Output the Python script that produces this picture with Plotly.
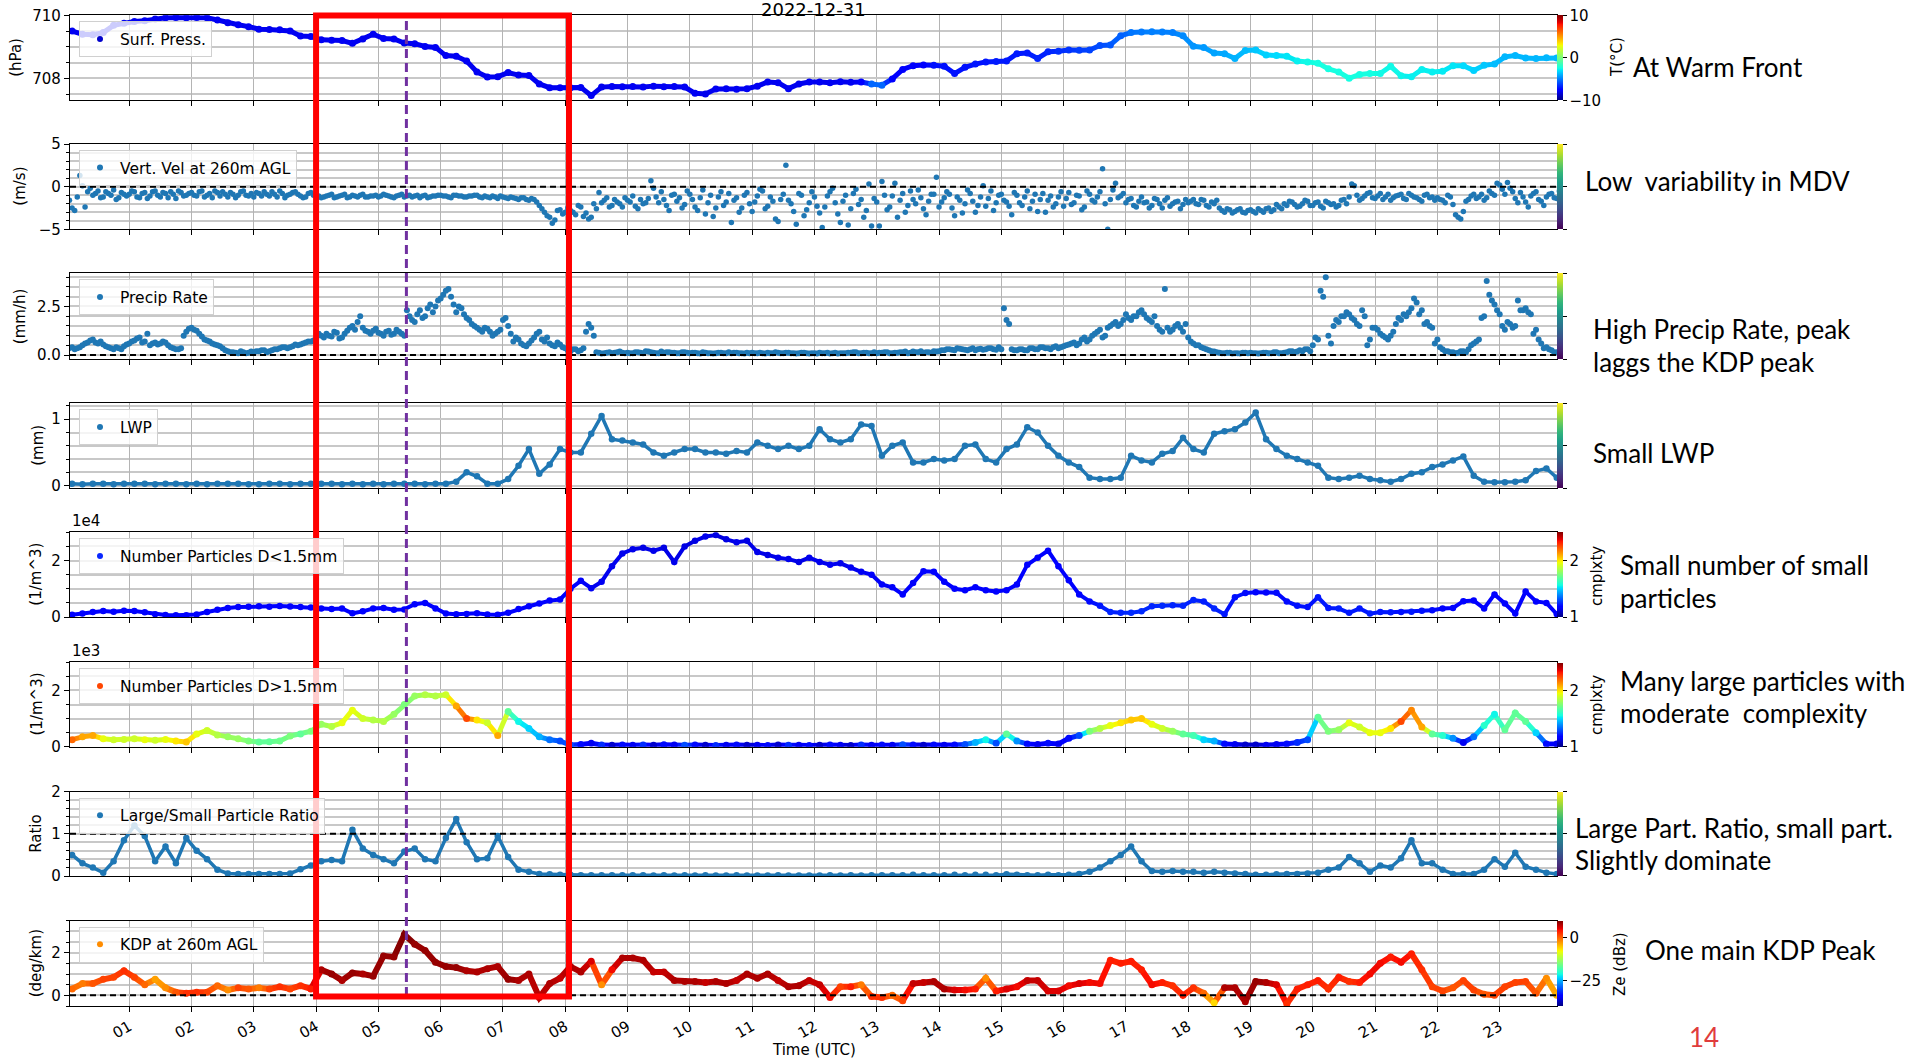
import plotly.graph_objects as go

W, H = 1911, 1060
ML, MR = 70, 354
PW = W - ML - MR

# ---------------- data ----------------
HOUR_TICKS = list(range(1, 24))
HOUR_LABELS = ["%02d" % h for h in HOUR_TICKS]
MIN10 = [5, 15, 25, 35, 45, 55]
MIN5 = [2.5, 7.5, 12.5, 17.5, 22.5, 27.5, 32.5, 37.5, 42.5, 47.5, 52.5, 57.5]
MIN5B = [0, 5, 10, 15, 20, 25, 30, 35, 40, 45, 50, 55]

press_hpa = [
    [709.50, 709.40, 709.38, 709.45, 709.68, 709.75],
    [709.80, 709.83, 709.88, 709.92, 709.93, 709.92],
    [709.93, 709.92, 709.85, 709.76, 709.70, 709.64],
    [709.56, 709.55, 709.54, 709.50, 709.34, 709.33],
    [709.22, 709.21, 709.20, 709.11, 709.25, 709.40],
    [709.26, 709.25, 709.12, 709.10, 709.01, 708.98],
    [708.72, 708.70, 708.55, 708.20, 708.04, 708.05],
    [708.18, 708.10, 708.09, 707.82, 707.70, 707.70],
    [707.70, 707.71, 707.45, 707.72, 707.74, 707.73],
    [707.74, 707.72, 707.75, 707.73, 707.74, 707.72],
    [707.52, 707.50, 707.66, 707.67, 707.65, 707.67],
    [707.75, 707.88, 707.86, 707.67, 707.82, 707.88],
    [707.88, 707.86, 707.89, 707.87, 707.88, 707.82],
    [707.78, 707.98, 708.28, 708.40, 708.42, 708.41],
    [708.38, 708.15, 708.35, 708.45, 708.52, 708.53],
    [708.55, 708.78, 708.80, 708.63, 708.84, 708.86],
    [708.90, 708.89, 708.90, 709.04, 709.06, 709.35],
    [709.45, 709.47, 709.48, 709.47, 709.45, 709.35],
    [709.02, 708.98, 708.80, 708.78, 708.63, 708.88],
    [708.90, 708.74, 708.72, 708.70, 708.55, 708.52],
    [708.48, 708.30, 708.20, 708.00, 708.12, 708.15],
    [708.15, 708.38, 708.08, 708.05, 708.28, 708.20],
    [708.22, 708.40, 708.40, 708.25, 708.41, 708.45],
    [708.68, 708.72, 708.64, 708.63, 708.65, 708.64],
]

temp_c = [
    [-8.0, -8.1, -8.0, -8.0, -8.1, -8.0],
    [-8.0, -8.0, -8.1, -8.0, -8.0, -8.0],
    [-8.0, -8.0, -8.0, -8.1, -8.0, -8.0],
    [-8.0, -8.1, -8.0, -8.0, -8.0, -8.0],
    [-8.0, -8.0, -8.0, -8.0, -8.1, -8.0],
    [-8.0, -8.0, -8.1, -8.0, -8.0, -8.0],
    [-8.0, -8.0, -8.0, -8.0, -8.0, -8.1],
    [-8.0, -8.1, -8.0, -8.0, -8.0, -8.0],
    [-8.0, -8.0, -8.0, -8.1, -8.0, -8.0],
    [-8.0, -8.0, -8.0, -8.0, -8.0, -8.0],
    [-8.0, -8.1, -8.0, -8.0, -8.0, -8.0],
    [-8.0, -8.0, -8.0, -8.0, -8.1, -8.0],
    [-8.0, -8.0, -8.0, -8.0, -7.8, -5.5],
    [-5.5, -7.5, -7.5, -7.5, -7.5, -7.2],
    [-7.2, -7.2, -7.2, -7.1, -7.1, -7.0],
    [-7.0, -7.0, -7.0, -6.8, -6.8, -6.6],
    [-6.5, -6.3, -6.2, -6.0, -5.8, -5.6],
    [-5.2, -5.1, -5.0, -5.0, -5.0, -4.8],
    [-4.6, -4.5, -4.3, -4.2, -4.0, -3.8],
    [-3.6, -3.4, -3.2, -3.0, -2.8, -2.6],
    [-2.5, -2.5, -2.5, -2.5, -2.5, -2.5],
    [-2.6, -2.6, -2.7, -2.8, -2.8, -2.8],
    [-2.9, -3.0, -3.2, -3.4, -3.6, -3.8],
    [-3.9, -3.9, -3.9, -3.9, -3.9, -3.9],
]

vel_ms = [
    [-1.6, -2.8, 1.3, -2.4, -0.2, -0.8, -1.3, -0.6, -1.0, -1.5, -0.7, -1.1],
    [-0.5, -1.2, -0.8, -1.4, -0.6, -1.0, -0.7, -1.3, -0.9, -0.5, -1.1, -0.8],
    [-1.0, -0.6, -1.2, -0.8, -0.5, -1.1, -0.9, -0.7, -1.3, -0.6, -1.0, -0.8],
    [-0.7, -1.1, -0.9, -0.6, -1.2, -0.8, -1.0, -0.7, -0.9, -1.3, -0.8, -1.0],
    [-1.1, -1.2, -1.0, -1.3, -1.1, -0.9, -1.2, -1.1, -1.0, -1.2, -1.1, -1.0],
    [-1.1, -1.0, -1.2, -1.1, -0.9, -1.1, -1.2, -1.0, -1.1, -1.3, -1.1, -1.0],
    [-1.1, -1.2, -1.0, -1.1, -1.2, -1.1, -1.0, -1.2, -1.1, -1.3, -1.2, -1.1],
    [-1.3, -1.2, -1.4, -1.3, -1.5, -1.4, -1.8, -2.6, -3.4, -4.3, -2.8, -3.2],
    [-2.5, -3.0, -2.2, -3.5, -3.8, -2.0, -0.7, -1.6, -2.4, -1.5, -2.0, -1.3],
    [-1.8, -2.3, -1.5, -1.9, 0.7, -1.2, -0.6, -2.2, -1.0, -1.7, -2.5, -0.5],
    [-1.5, -2.8, -0.4, -1.9, -3.5, -1.2, -2.2, -0.8, -1.6, -3.0, -1.0, -2.0],
    [-1.8, -0.3, -2.6, -1.2, -3.8, -1.5, 2.5, -2.0, -4.4, -1.0, -2.7, -0.6],
    [-2.3, -4.8, -1.1, -0.2, -3.2, -1.7, -4.5, -0.8, -2.1, -3.6, 0.3, -1.4],
    [-4.6, -1.0, -2.4, 0.4, -1.6, -3.0, -0.5, -2.0, -1.3, -3.3, -0.9, 1.1],
    [-1.8, -0.6, -2.5, -1.2, -3.1, -0.4, -1.7, -2.2, 0.1, -1.4, -2.8, -1.0],
    [-1.6, -2.3, -0.7, -1.9, -1.2, -2.6, -0.9, -1.5, -3.0, -1.1, -2.0, -0.6],
    [-1.4, -2.1, -1.0, -2.7, -0.5, -1.6, -1.2, 2.1, -5.0, -0.4, -1.3, -0.8],
    [-1.5, -2.2, -1.7, -1.9, -2.5, -1.4, -2.0, -1.6, -2.3, -1.8, -2.6, -1.5],
    [-1.7, -2.0, -1.5, -2.2, -1.8, -1.6, -2.8, -2.6, -3.1, -2.7, -3.0, -2.8],
    [-2.9, -2.6, -3.0, -2.5, -2.7, -2.4, -2.0, -1.7, -2.1, -2.3, -1.6, -2.2],
    [-1.9, -2.3, -1.7, -2.1, -2.4, -1.6, -2.0, 0.3, -1.0, -1.4, -0.8, -1.3],
    [-1.1, -1.5, -0.9, -1.3, -1.0, -1.4, -0.8, -1.2, -1.5, -1.0, -1.3, -1.6],
    [-1.5, -1.9, -1.2, -3.3, -3.8, -1.7, -1.1, -1.4, -0.9, -1.3, -0.8, 0.4],
    [-0.3, 0.5, -0.6, -1.9, -1.2, -2.4, -0.8, -1.5, -2.2, -0.9, -1.3, -0.5],
]

vel_ms_b = [
    [-0.9, -2.5, -1.2, 0.1, -0.6, -1.0, -0.5, -1.2, -0.8, -0.4, -1.3, -0.9],
    [-0.9, -0.6, -1.3, -0.7, -1.1, -0.5, -1.2, -0.8, -0.6, -1.4, -0.7, -1.0],
    [-0.7, -1.1, -0.5, -1.0, -1.3, -0.7, -0.6, -1.2, -0.9, -1.0, -0.5, -1.1],
    [-1.2, -0.8, -0.6, -1.1, -0.9, -0.5, -1.3, -0.9, -0.6, -1.1, -1.2, -0.7],
    [-1.0, -1.3, -1.1, -0.9, -1.2, -1.0, -1.3, -1.0, -1.2, -0.9, -1.2, -1.1],
    [-1.2, -0.9, -1.1, -1.3, -1.0, -1.2, -1.0, -1.1, -1.3, -1.0, -1.2, -1.1],
    [-1.0, -1.1, -1.3, -1.0, -1.1, -1.2, -1.1, -1.0, -1.3, -1.2, -1.1, -1.4],
    [-1.2, -1.4, -1.3, -1.5, -1.3, -1.6, -1.5, -2.2, -3.0, -3.6, -3.9, -2.7],
    [-3.0, -2.8, -3.3, -2.4, -3.1, -3.6, -2.6, -1.9, -1.3, -2.2, -1.8, -2.4],
    [-1.6, -1.1, -2.6, -2.0, -1.4, -0.2, -1.9, -1.5, -2.8, -0.9, -1.3, -2.1],
    [-0.9, -2.4, -1.3, -3.2, -1.0, -2.5, -0.6, -1.8, -4.2, -1.3, -2.5, -0.7],
    [-2.9, -1.1, -0.5, -2.3, -1.7, -4.1, -0.9, -1.6, -2.9, -0.8, -3.4, -1.9],
    [-1.2, -3.1, -2.4, -0.6, -1.9, -4.2, -1.0, -2.6, -0.3, -1.5, -2.8, -4.6],
    [-1.8, 0.6, -2.7, -1.1, -3.6, -0.8, -2.2, -1.5, -0.4, -2.6, -1.7, -0.9],
    [-2.4, -1.3, -0.9, -3.4, -1.6, -2.0, -0.8, -3.0, -1.2, -2.3, -0.5, -1.9],
    [-0.9, -1.8, -3.3, -1.0, -2.2, -0.5, -1.7, -2.9, -0.8, -1.6, -2.4, -1.2],
    [-2.3, -0.7, -1.9, -1.1, -2.4, -0.9, -1.8, -0.6, -2.0, -1.5, 0.4, -1.1],
    [-1.9, -1.4, -2.4, -1.2, -1.8, -2.2, -1.5, -2.5, -1.3, -2.0, -1.7, -2.1],
    [-1.9, -1.5, -2.1, -1.6, -2.4, -2.0, -2.5, -3.0, -2.7, -2.9, -2.6, -3.1],
    [-2.7, -3.1, -2.8, -2.6, -2.9, -2.1, -2.6, -2.2, -1.8, -2.4, -2.0, -1.7],
    [-2.2, -1.8, -2.5, -1.9, -2.0, -2.2, -1.5, -1.2, 0.1, -1.6, -1.1, -0.7],
    [-1.4, -0.8, -1.2, -1.6, -1.1, -0.9, -1.5, -1.0, -1.3, -1.7, -0.9, -1.2],
    [-1.3, -1.6, -1.0, -2.1, -3.6, -2.9, -1.5, -0.9, -1.2, -1.6, -0.5, -1.0],
    [0.2, -0.9, -0.2, -1.4, -0.7, -1.8, -1.1, -0.6, -1.7, -1.2, -0.8, -1.4],
]

precip_mmh = [
    [0.35, 0.30, 0.40, 0.60, 0.75, 0.65, 0.70, 0.45, 0.35, 0.40, 0.30, 0.55],
    [0.70, 0.85, 0.65, 1.10, 0.60, 0.55, 0.70, 0.50, 0.35, 0.30, 1.00, 1.35],
    [1.30, 1.10, 0.80, 0.70, 0.55, 0.45, 0.25, 0.15, 0.12, 0.20, 0.10, 0.18],
    [0.20, 0.25, 0.15, 0.25, 0.30, 0.40, 0.35, 0.45, 0.50, 0.60, 0.70, 0.75],
    [1.10, 0.90, 1.00, 1.20, 0.85, 1.10, 1.40, 1.30, 2.00, 1.25, 1.10, 1.35],
    [1.10, 1.20, 1.05, 1.30, 1.10, 2.30, 1.80, 2.10, 1.90, 2.40, 2.20, 2.80],
    [3.10, 3.40, 2.60, 2.50, 2.10, 1.80, 1.50, 1.30, 1.40, 1.20, 1.10, 1.30],
    [1.90, 1.10, 0.90, 0.60, 0.45, 0.75, 1.10, 0.80, 0.90, 0.50, 0.65, 0.40],
    [0.25, 0.30, 0.20, 0.35, 1.60, 1.00, 0.12, 0.10, 0.15, 0.12, 0.18, 0.10],
    [0.10, 0.15, 0.12, 0.20, 0.15, 0.10, 0.18, 0.15, 0.12, 0.10, 0.15, 0.12],
    [0.12, 0.10, 0.15, 0.10, 0.08, 0.12, 0.10, 0.15, 0.12, 0.10, 0.08, 0.10],
    [0.10, 0.12, 0.08, 0.10, 0.15, 0.10, 0.12, 0.10, 0.08, 0.12, 0.10, 0.10],
    [0.08, 0.10, 0.12, 0.10, 0.08, 0.10, 0.12, 0.15, 0.10, 0.12, 0.10, 0.15],
    [0.12, 0.15, 0.10, 0.12, 0.15, 0.18, 0.12, 0.15, 0.20, 0.15, 0.12, 0.18],
    [0.25, 0.30, 0.28, 0.35, 0.30, 0.25, 0.35, 0.30, 0.28, 0.35, 0.30, 0.40],
    [2.40, 1.60, 0.25, 0.30, 0.25, 0.35, 0.30, 0.40, 0.35, 0.30, 0.45, 0.40],
    [0.50, 0.60, 0.50, 0.80, 0.70, 1.00, 1.20, 0.90, 1.40, 1.60, 1.50, 1.80],
    [1.90, 2.00, 2.20, 2.10, 1.80, 2.00, 1.30, 3.40, 1.20, 1.50, 1.40, 1.60],
    [0.70, 0.50, 0.40, 0.30, 0.20, 0.15, 0.10, 0.12, 0.08, 0.10, 0.12, 0.10],
    [0.10, 0.08, 0.12, 0.10, 0.15, 0.10, 0.12, 0.20, 0.15, 0.25, 0.30, 0.20],
    [0.90, 3.30, 4.00, 0.60, 1.80, 2.00, 2.20, 1.90, 1.60, 2.30, 0.50, 1.40],
    [1.30, 1.00, 0.80, 1.20, 1.90, 2.10, 2.20, 2.90, 2.10, 1.60, 1.50, 0.60],
    [0.40, 0.20, 0.15, 0.10, 0.20, 0.15, 0.50, 0.70, 1.90, 3.80, 2.80, 2.30],
    [1.50, 1.70, 1.40, 2.80, 2.30, 2.20, 1.10, 0.80, 0.35, 0.30, 0.15, 0.10],
]

precip_mmh_b = [
    [0.30, 0.40, 0.35, 0.50, 0.65, 0.80, 0.60, 0.55, 0.40, 0.30, 0.35, 0.45],
    [0.60, 0.75, 0.90, 0.70, 0.50, 0.65, 0.60, 0.65, 0.40, 0.30, 0.35, 1.20],
    [1.40, 1.25, 0.95, 0.75, 0.60, 0.50, 0.35, 0.20, 0.15, 0.10, 0.15, 0.12],
    [0.15, 0.20, 0.25, 0.20, 0.30, 0.35, 0.40, 0.40, 0.55, 0.55, 0.65, 0.70],
    [0.80, 1.00, 1.10, 0.95, 1.15, 0.90, 1.25, 1.50, 1.70, 1.40, 1.20, 1.25],
    [1.15, 1.00, 1.25, 1.10, 1.20, 1.00, 2.00, 1.70, 2.30, 2.00, 2.60, 2.50],
    [2.90, 3.30, 3.00, 2.20, 2.40, 1.90, 1.60, 1.40, 1.20, 1.35, 1.00, 1.20],
    [1.80, 1.50, 0.70, 0.80, 0.50, 0.60, 0.90, 1.20, 0.70, 0.60, 0.45, 0.55],
    [0.35, 0.20, 0.30, 0.25, 1.20, 1.40, 0.15, 0.08, 0.12, 0.10, 0.15, 0.12],
    [0.12, 0.10, 0.15, 0.10, 0.18, 0.12, 0.10, 0.12, 0.15, 0.12, 0.10, 0.15],
    [0.10, 0.12, 0.08, 0.12, 0.10, 0.10, 0.12, 0.10, 0.10, 0.12, 0.10, 0.12],
    [0.12, 0.10, 0.10, 0.12, 0.10, 0.12, 0.10, 0.12, 0.10, 0.10, 0.12, 0.08],
    [0.10, 0.12, 0.10, 0.08, 0.12, 0.10, 0.10, 0.12, 0.15, 0.10, 0.12, 0.10],
    [0.10, 0.12, 0.15, 0.10, 0.12, 0.15, 0.10, 0.18, 0.15, 0.12, 0.15, 0.20],
    [0.20, 0.25, 0.30, 0.25, 0.32, 0.28, 0.30, 0.25, 0.32, 0.30, 0.35, 0.28],
    [0.30, 1.80, 0.30, 0.25, 0.30, 0.25, 0.35, 0.30, 0.40, 0.35, 0.40, 0.35],
    [0.45, 0.55, 0.65, 0.60, 0.90, 0.80, 1.10, 1.30, 1.00, 1.50, 1.70, 1.60],
    [2.10, 1.80, 2.00, 2.30, 1.90, 1.70, 1.50, 1.20, 1.40, 1.30, 1.60, 1.20],
    [0.90, 0.60, 0.50, 0.35, 0.25, 0.18, 0.12, 0.10, 0.12, 0.10, 0.08, 0.12],
    [0.12, 0.10, 0.10, 0.12, 0.10, 0.15, 0.10, 0.15, 0.20, 0.18, 0.20, 0.30],
    [0.50, 0.80, 3.00, 1.00, 1.50, 1.70, 2.00, 2.10, 1.80, 1.50, 2.00, 0.80],
    [1.40, 1.10, 0.90, 1.00, 1.60, 1.80, 2.00, 2.40, 2.70, 2.30, 1.70, 1.40],
    [0.80, 0.30, 0.20, 0.15, 0.12, 0.20, 0.30, 0.60, 0.80, 2.00, 3.10, 2.60],
    [2.10, 1.30, 1.60, 1.50, 2.30, 2.40, 2.10, 1.30, 0.60, 0.40, 0.25, 0.15],
]

lwp_mm = [
    [0.03, 0.02, 0.03, 0.03, 0.02, 0.03],
    [0.03, 0.03, 0.02, 0.03, 0.03, 0.02],
    [0.03, 0.02, 0.03, 0.03, 0.03, 0.02],
    [0.02, 0.03, 0.03, 0.02, 0.03, 0.03],
    [0.03, 0.03, 0.02, 0.03, 0.02, 0.03],
    [0.02, 0.03, 0.03, 0.03, 0.02, 0.03],
    [0.03, 0.06, 0.20, 0.14, 0.03, 0.03],
    [0.10, 0.30, 0.55, 0.18, 0.32, 0.55],
    [0.50, 0.50, 0.78, 1.05, 0.70, 0.68],
    [0.65, 0.62, 0.50, 0.45, 0.50, 0.55],
    [0.55, 0.50, 0.50, 0.48, 0.52, 0.50],
    [0.65, 0.60, 0.55, 0.60, 0.55, 0.60],
    [0.85, 0.70, 0.65, 0.70, 0.92, 0.90],
    [0.45, 0.60, 0.65, 0.35, 0.35, 0.40],
    [0.38, 0.40, 0.60, 0.62, 0.40, 0.35],
    [0.55, 0.62, 0.88, 0.80, 0.60, 0.45],
    [0.35, 0.28, 0.12, 0.10, 0.10, 0.12],
    [0.45, 0.38, 0.35, 0.48, 0.52, 0.72],
    [0.55, 0.50, 0.78, 0.82, 0.85, 0.95],
    [1.10, 0.70, 0.55, 0.45, 0.40, 0.35],
    [0.30, 0.12, 0.10, 0.12, 0.15, 0.10],
    [0.08, 0.06, 0.10, 0.18, 0.20, 0.28],
    [0.32, 0.38, 0.44, 0.15, 0.06, 0.05],
    [0.05, 0.06, 0.08, 0.22, 0.26, 0.12],
]

n_small = [
    [800, 1200, 1800, 2100, 1900, 2200],
    [2100, 1700, 1000, 700, 600, 600],
    [900, 1800, 2600, 3200, 3500, 3600],
    [3800, 3600, 3900, 3700, 3500, 3400],
    [3000, 2800, 3000, 1300, 2000, 3000],
    [3200, 2600, 2700, 4500, 5000, 3000],
    [1200, 1000, 1100, 1300, 900, 800],
    [1500, 2800, 3800, 4800, 5800, 6200],
    [10000, 12800, 10200, 12500, 18000, 22500],
    [24000, 24500, 23500, 24500, 19500, 25000],
    [27000, 28500, 29000, 27500, 26500, 27000],
    [23000, 22000, 21000, 20500, 19500, 21000],
    [19500, 18500, 19000, 17500, 16000, 15000],
    [11500, 10500, 8000, 12000, 16200, 16000],
    [12500, 10000, 9500, 10500, 9500, 9000],
    [9500, 11500, 18500, 21000, 23500, 18000],
    [13000, 8000, 5500, 4000, 1800, 1500],
    [1500, 2000, 3800, 4000, 4200, 4000],
    [6000, 5500, 3000, 1000, 7000, 8500],
    [8800, 8700, 8600, 5500, 4000, 3500],
    [7000, 3200, 3000, 1500, 3000, 1200],
    [1800, 1700, 1800, 1900, 2200, 2400],
    [3000, 3200, 5600, 5800, 3000, 8000],
    [4800, 1200, 9000, 5500, 5000, 1000],
]

cmplx_small = [
    [1.18, 1.18, 1.17, 1.18, 1.18, 1.17],
    [1.18, 1.17, 1.18, 1.18, 1.17, 1.18],
    [1.18, 1.18, 1.18, 1.17, 1.18, 1.18],
    [1.17, 1.18, 1.18, 1.18, 1.17, 1.18],
    [1.18, 1.18, 1.17, 1.18, 1.18, 1.18],
    [1.18, 1.17, 1.18, 1.18, 1.18, 1.17],
    [1.18, 1.18, 1.18, 1.17, 1.18, 1.18],
    [1.18, 1.18, 1.17, 1.18, 1.18, 1.18],
    [1.17, 1.16, 1.15, 1.15, 1.14, 1.14],
    [1.14, 1.13, 1.14, 1.13, 1.14, 1.13],
    [1.13, 1.14, 1.13, 1.13, 1.14, 1.13],
    [1.14, 1.13, 1.14, 1.14, 1.13, 1.14],
    [1.14, 1.15, 1.14, 1.15, 1.15, 1.16],
    [1.16, 1.16, 1.17, 1.16, 1.17, 1.17],
    [1.17, 1.17, 1.18, 1.17, 1.18, 1.18],
    [1.18, 1.18, 1.17, 1.18, 1.18, 1.18],
    [1.18, 1.19, 1.20, 1.22, 1.24, 1.24],
    [1.25, 1.25, 1.24, 1.25, 1.24, 1.24],
    [1.24, 1.23, 1.24, 1.22, 1.21, 1.20],
    [1.19, 1.19, 1.20, 1.20, 1.21, 1.21],
    [1.22, 1.22, 1.23, 1.22, 1.22, 1.23],
    [1.22, 1.22, 1.21, 1.22, 1.21, 1.20],
    [1.19, 1.19, 1.18, 1.18, 1.19, 1.18],
    [1.18, 1.18, 1.19, 1.18, 1.18, 1.17],
]

n_large = [
    [250, 350, 400, 280, 250, 260],
    [280, 250, 230, 260, 200, 170],
    [450, 580, 420, 350, 280, 200],
    [170, 180, 200, 380, 450, 550],
    [800, 720, 850, 1300, 1000, 950],
    [900, 1150, 1500, 1800, 1850, 1800],
    [1850, 1450, 1000, 950, 850, 400],
    [1250, 900, 650, 350, 250, 200],
    [60, 80, 120, 60, 50, 60],
    [50, 60, 50, 70, 60, 50],
    [60, 50, 40, 50, 60, 50],
    [50, 40, 60, 50, 50, 40],
    [50, 60, 50, 40, 60, 50],
    [60, 50, 70, 60, 50, 60],
    [50, 60, 80, 150, 250, 120],
    [450, 200, 100, 80, 120, 100],
    [300, 400, 550, 650, 750, 850],
    [950, 1000, 800, 650, 550, 450],
    [400, 250, 200, 100, 80, 60],
    [60, 50, 80, 100, 150, 250],
    [1050, 550, 600, 850, 700, 500],
    [500, 650, 900, 1300, 700, 450],
    [400, 300, 150, 350, 750, 1150],
    [600, 1200, 900, 500, 100, 100],
]

cmplx_large = [
    [2.20, 2.10, 2.10, 1.95, 1.90, 1.90],
    [1.90, 1.95, 1.90, 1.95, 2.00, 2.05],
    [1.95, 1.90, 1.85, 1.80, 1.80, 1.75],
    [1.70, 1.70, 1.72, 1.75, 1.70, 1.75],
    [1.80, 1.85, 1.95, 1.95, 1.90, 1.85],
    [1.85, 1.80, 1.75, 1.80, 1.85, 1.85],
    [1.90, 2.10, 2.25, 2.00, 1.90, 2.10],
    [1.70, 1.55, 1.50, 1.45, 1.35, 1.30],
    [1.30, 1.20, 1.15, 1.25, 1.10, 1.20],
    [1.15, 1.25, 1.10, 1.20, 1.15, 1.30],
    [1.20, 1.10, 1.25, 1.15, 1.20, 1.10],
    [1.15, 1.20, 1.10, 1.25, 1.15, 1.20],
    [1.10, 1.20, 1.15, 1.10, 1.25, 1.15],
    [1.20, 1.15, 1.30, 1.20, 1.10, 1.20],
    [1.15, 1.20, 1.30, 1.45, 1.55, 1.30],
    [1.70, 1.40, 1.20, 1.15, 1.20, 1.15],
    [1.20, 1.30, 1.75, 1.85, 1.95, 2.00],
    [2.05, 2.05, 1.95, 1.90, 1.80, 1.70],
    [1.65, 1.50, 1.45, 1.20, 1.15, 1.10],
    [1.10, 1.15, 1.15, 1.20, 1.25, 1.30],
    [1.70, 1.75, 1.80, 1.95, 1.90, 1.95],
    [1.95, 2.00, 2.25, 2.15, 2.10, 1.70],
    [1.60, 1.40, 1.15, 1.35, 1.60, 1.55],
    [1.70, 1.70, 1.70, 1.50, 1.20, 1.15],
]

ratio = [
    [0.50, 0.30, 0.20, 0.08, 0.35, 0.85],
    [1.20, 0.95, 0.35, 0.70, 0.30, 0.90],
    [0.60, 0.40, 0.15, 0.06, 0.05, 0.05],
    [0.05, 0.05, 0.05, 0.06, 0.16, 0.25],
    [0.35, 0.38, 0.35, 1.10, 0.65, 0.50],
    [0.40, 0.30, 0.58, 0.65, 0.40, 0.35],
    [0.90, 1.35, 0.80, 0.40, 0.42, 0.95],
    [0.45, 0.15, 0.10, 0.05, 0.04, 0.03],
    [0.03, 0.02, 0.02, 0.02, 0.02, 0.02],
    [0.02, 0.02, 0.01, 0.02, 0.01, 0.02],
    [0.01, 0.02, 0.01, 0.01, 0.02, 0.01],
    [0.01, 0.01, 0.02, 0.01, 0.01, 0.01],
    [0.01, 0.02, 0.01, 0.02, 0.01, 0.02],
    [0.02, 0.02, 0.02, 0.03, 0.02, 0.02],
    [0.02, 0.03, 0.02, 0.03, 0.03, 0.02],
    [0.04, 0.03, 0.02, 0.02, 0.03, 0.02],
    [0.03, 0.05, 0.10, 0.20, 0.35, 0.50],
    [0.70, 0.35, 0.12, 0.10, 0.12, 0.10],
    [0.10, 0.08, 0.10, 0.08, 0.06, 0.05],
    [0.03, 0.03, 0.04, 0.05, 0.05, 0.06],
    [0.08, 0.15, 0.20, 0.45, 0.30, 0.10],
    [0.25, 0.20, 0.42, 0.85, 0.30, 0.30],
    [0.15, 0.05, 0.05, 0.05, 0.15, 0.40],
    [0.22, 0.55, 0.22, 0.15, 0.08, 0.05],
]

kdp_degkm = [
    [0.30, 0.55, 0.55, 0.75, 0.85, 1.15],
    [0.85, 0.50, 0.75, 0.35, 0.15, 0.10],
    [0.15, 0.15, 0.45, 0.25, 0.35, 0.30],
    [0.35, 0.30, 0.40, 0.30, 0.45, 0.30],
    [1.20, 1.00, 0.70, 1.05, 1.00, 0.90],
    [1.85, 1.80, 2.85, 2.40, 2.10, 1.55],
    [1.35, 1.30, 1.15, 1.10, 1.25, 1.35],
    [0.75, 0.70, 1.00, -0.10, 0.55, 0.80],
    [1.35, 1.10, 1.60, 0.50, 1.20, 1.75],
    [1.75, 1.65, 1.10, 1.10, 0.70, 0.65],
    [0.65, 0.60, 0.65, 0.55, 0.70, 1.00],
    [0.80, 1.00, 0.70, 0.40, 0.45, 0.70],
    [0.50, -0.10, 0.40, 0.40, 0.50, -0.05],
    [-0.10, 0.00, -0.25, 0.55, 0.60, 0.65],
    [0.30, 0.25, 0.25, 0.30, 0.80, 0.20],
    [0.30, 0.40, 0.70, 0.70, 0.20, 0.20],
    [0.45, 0.55, 0.60, 0.55, 1.65, 1.50],
    [1.60, 1.20, 0.50, 0.60, 0.45, 0.00],
    [0.35, 0.10, -0.35, 0.35, 0.35, -0.30],
    [0.65, 0.60, 0.50, -0.40, 0.30, 0.50],
    [0.70, 0.30, 0.85, 0.65, 0.60, 1.00],
    [1.50, 1.80, 1.55, 1.95, 1.20, 0.40],
    [0.20, 0.35, 0.70, 0.25, 0.05, 0.00],
    [0.40, 0.60, 0.65, 0.10, 0.80, 0.00],
]

ze_dbz = [
    [0, -1, 1, 2, 2, 3],
    [2, 0, -3, -2, 1, 3],
    [3, 2, 0, -2, 2, 1],
    [-1, 2, 3, 2, 3, 4],
    [8, 9, 8, 9, 8, 9],
    [9, 9, 10, 9, 9, 9],
    [9, 9, 8, 8, 8, 8],
    [9, 8, 8, 7, 8, 7],
    [8, 8, 6, -2, 5, 8],
    [8, 8, 7, 7, 8, 8],
    [8, 7, 8, 8, 7, 8],
    [8, 8, 7, 8, 8, 7],
    [7, 5, 2, 4, -1, 3],
    [3, 0, 2, 7, 7, 8],
    [8, 6, 5, 4, -2, 4],
    [6, 5, 7, 7, 6, 6],
    [5, 6, 5, 5, 4, 4],
    [4, 4, 5, 4, 3, 4],
    [3, 0, -6, 8, 8, 8],
    [9, 8, 6, 3, 4, 4],
    [4, 3, 4, 3, 4, 5],
    [5, 4, 5, 4, 3, 2],
    [2, 1, 2, 2, 1, 2],
    [2, 2, 2, 1, -2, -4],
]

# ---------------- helpers ----------------
def flat(rows):
    return [v for r in rows for v in r]

t10 = [h + m / 60.0 for h in range(24) for m in MIN10]
t5 = [h + m / 60.0 for h in range(24) for m in MIN5]
t5b = [h + m / 60.0 for h in range(24) for m in MIN5B]

JET_STOPS = [
    (0.0, (0.0, 0.0, 0.5)), (0.11, (0.0, 0.0, 1.0)), (0.125, (0.0, 0.0, 1.0)),
    (0.34, (0.0, 0.86, 1.0)), (0.35, (0.0, 0.9, 0.968)), (0.375, (0.081, 1.0, 0.887)),
    (0.64, (0.935, 1.0, 0.032)), (0.65, (0.968, 0.963, 0.0)), (0.66, (1.0, 0.926, 0.0)),
    (0.89, (1.0, 0.074, 0.0)), (0.91, (0.909, 0.0, 0.0)), (1.0, (0.5, 0.0, 0.0)),
]
JET = [[p, "rgb(%d,%d,%d)" % tuple(round(255 * c) for c in rgb)] for p, rgb in JET_STOPS]


def jet_rgb(v):
    v = min(1.0, max(0.0, v))
    for (p0, c0), (p1, c1) in zip(JET_STOPS[:-1], JET_STOPS[1:]):
        if v <= p1:
            f = 0 if p1 == p0 else (v - p0) / (p1 - p0)
            return tuple(int(round(255 * (c0[k] + f * (c1[k] - c0[k])))) for k in range(3))
    return (128, 0, 0)


def seg_traces(x, y, c, cmin, cmax, ax, width):
    out = []
    run_x, run_y, run_col = [], [], None
    for i in range(len(x) - 1):
        rgb = jet_rgb(((c[i] + c[i + 1]) / 2.0 - cmin) / (cmax - cmin))
        rgb = tuple(min(255, int(round(q / 8.0) * 8)) for q in rgb)
        col = "rgb(%d,%d,%d)" % rgb
        if col == run_col:
            run_x.append(x[i + 1]); run_y.append(y[i + 1])
        else:
            if run_col is not None:
                out.append(go.Scatter(x=run_x, y=run_y, mode="lines", xaxis="x%d" % ax, yaxis="y%d" % ax,
                                      line=dict(color=run_col, width=width), showlegend=False, hoverinfo="skip"))
            run_x, run_y, run_col = [x[i], x[i + 1]], [y[i], y[i + 1]], col
    out.append(go.Scatter(x=run_x, y=run_y, mode="lines", xaxis="x%d" % ax, yaxis="y%d" % ax,
                          line=dict(color=run_col, width=width), showlegend=False, hoverinfo="skip"))
    return out


PANEL_TOP = [15.3, 144.0, 273.3, 403.3, 532.3, 662.3, 791.7, 920.7]
PANEL_BOT = [100.3, 229.3, 359.0, 488.3, 617.0, 746.7, 876.0, 1006.0]


def yp(px):
    return 1 - px / H


def xp(px):
    return (px - ML) / PW


FONT = "DejaVu Sans"
TAB = "#1f77b4"


def cbar(i, **kw):
    d = dict(x=1.0, xanchor="left", xpad=0, ypad=0, thickness=6, thicknessmode="pixels",
             len=(PANEL_BOT[i - 1] - PANEL_TOP[i - 1]) / H, lenmode="fraction",
             y=yp((PANEL_TOP[i - 1] + PANEL_BOT[i - 1]) / 2), yanchor="middle",
             outlinewidth=0, ticks="outside", ticklen=4, tickcolor="black",
             tickfont=dict(family=FONT, size=15, color="black"))
    d.update(kw)
    return d


fig = go.Figure()

P = flat(press_hpa); TC = flat(temp_c)
V = flat(vel_ms); VB = flat(vel_ms_b); R = flat(precip_mmh); RB = flat(precip_mmh_b); L = flat(lwp_mm)
NS = flat(n_small); CS = flat(cmplx_small); NL = flat(n_large); CL = flat(cmplx_large)
RA = flat(ratio); K = flat(kdp_degkm); Z = flat(ze_dbz)

# panel 1: surface pressure coloured by temperature
for tr in seg_traces(t10, P, TC, -10, 10, 1, 5):
    fig.add_trace(tr)
fig.add_trace(go.Scatter(x=t10, y=P, mode="markers", xaxis="x1", yaxis="y1", showlegend=False,
                         marker=dict(size=7, color=TC, colorscale=JET, cmin=-10, cmax=10,
                                     colorbar=cbar(1, tickvals=[-10, 0, 10]), showscale=True)))
# panel 2: vertical velocity
for xs, ys in [(t5, V), (t5b, VB)]:
    fig.add_trace(go.Scatter(x=xs, y=ys, mode="markers", xaxis="x2", yaxis="y2", showlegend=False,
                             marker=dict(size=5.5, color=TAB)))
# panel 3: precip rate
for xs, ys in [(t5, R), (t5b, RB)]:
    fig.add_trace(go.Scatter(x=xs, y=ys, mode="markers", xaxis="x3", yaxis="y3", showlegend=False,
                             marker=dict(size=6, color=TAB)))
# panel 4: LWP
fig.add_trace(go.Scatter(x=t10, y=L, mode="lines+markers", xaxis="x4", yaxis="y4", showlegend=False,
                         line=dict(color=TAB, width=3.5), marker=dict(size=6.5, color=TAB)))
# panel 5: small particles coloured by complexity
for tr in seg_traces(t10, NS, CS, 1, 2.5, 5, 4):
    fig.add_trace(tr)
fig.add_trace(go.Scatter(x=t10, y=NS, mode="markers", xaxis="x5", yaxis="y5", showlegend=False,
                         marker=dict(size=6.5, color=CS, colorscale=JET, cmin=1, cmax=2.5,
                                     colorbar=cbar(5, tickvals=[1, 2]), showscale=True)))
# panel 6: large particles coloured by complexity
for tr in seg_traces(t10, NL, CL, 1, 2.5, 6, 5):
    fig.add_trace(tr)
fig.add_trace(go.Scatter(x=t10, y=NL, mode="markers", xaxis="x6", yaxis="y6", showlegend=False,
                         marker=dict(size=7, color=CL, colorscale=JET, cmin=1, cmax=2.5,
                                     colorbar=cbar(6, tickvals=[1, 2]), showscale=True)))
# panel 7: ratio
fig.add_trace(go.Scatter(x=t10, y=RA, mode="lines+markers", xaxis="x7", yaxis="y7", showlegend=False,
                         line=dict(color=TAB, width=3.5), marker=dict(size=6.5, color=TAB)))
# panel 8: KDP coloured by Ze
for tr in seg_traces(t10, K, Z, -40, 10, 8, 6):
    fig.add_trace(tr)
fig.add_trace(go.Scatter(x=t10, y=K, mode="markers", xaxis="x8", yaxis="y8", showlegend=False,
                         marker=dict(size=7, color=Z, colorscale=JET, cmin=-40, cmax=10,
                                     colorbar=cbar(8, tickvals=[-25, 0]), showscale=True)))

# empty viridis colourbars (panels 2,3,4,7)
for i in [2, 3, 4, 7]:
    fig.add_trace(go.Scatter(x=[None], y=[None], mode="markers", xaxis="x%d" % i, yaxis="y%d" % i,
                             showlegend=False, hoverinfo="skip",
                             marker=dict(color=[0.5], colorscale="Viridis", cmin=0, cmax=1, showscale=True,
                                         colorbar=cbar(i, tickvals=[0, 0.5, 1], showticklabels=False))))

# legends
LEG = [("Surf. Press.", "#0000cc"), ("Vert. Vel at 260m AGL", TAB), ("Precip Rate", TAB), ("LWP", TAB),
       ("Number Particles D<1.5mm", "#0a28ff"), ("Number Particles D>1.5mm", "#ff4500"),
       ("Large/Small Particle Ratio", TAB), ("KDP at 260m AGL", "#ff8c00")]
for i, (name, col) in enumerate(LEG, start=1):
    fig.add_trace(go.Scatter(x=[None], y=[None], mode="markers", name=name, xaxis="x%d" % i, yaxis="y%d" % i,
                             marker=dict(size=6, color=col), legend="legend" if i == 1 else "legend%d" % i))

YAX = [
    dict(range=[707.3, 710.0], tickvals=[708, 710], minor=0.5, m0=707.5),
    dict(range=[-5, 5], tickvals=[-5, 0, 5], minor=1, m0=-5),
    dict(range=[-0.2, 4.2], tickvals=[0, 2.5], ticktext=["0.0", "2.5"], minor=0.5, m0=0),
    dict(range=[-0.04, 1.24], tickvals=[0, 1], minor=0.2, m0=0),
    dict(range=[0, 30000], tickvals=[0, 20000], ticktext=["0", "2"], minor=5000, m0=0),
    dict(range=[0, 3000], tickvals=[0, 2000], ticktext=["0", "2"], minor=500, m0=0),
    dict(range=[0, 2], tickvals=[0, 1, 2], minor=0.2, m0=0),
    dict(range=[-0.5, 3.5], tickvals=[0, 2], minor=0.5, m0=-0.5),
]

layout = dict(width=W, height=H, margin=dict(l=ML, r=MR, t=0, b=0, autoexpand=False),
              paper_bgcolor="white", plot_bgcolor="white", showlegend=True,
              font=dict(family=FONT, size=15, color="black"))
for i in range(1, 9):
    layout["xaxis%d" % i] = dict(
        domain=[0, 1], range=[0.05, 23.92], anchor="y%d" % i, tickmode="array",
        tickvals=HOUR_TICKS, ticktext=HOUR_LABELS, showticklabels=(i == 8), tickangle=-30,
        ticks="outside", ticklen=5, tickwidth=1.2, tickcolor="black",
        showgrid=True, gridcolor="#b4b4b4", gridwidth=1.3, zeroline=False,
        showline=True, linecolor="black", linewidth=1.3, mirror=True,
        tickfont=dict(family=FONT, size=15), matches=None if i == 1 else "x")
    ya = YAX[i - 1]
    yd = dict(domain=[yp(PANEL_BOT[i - 1]), yp(PANEL_TOP[i - 1])], range=ya["range"], anchor="x%d" % i,
              tickmode="array", tickvals=ya["tickvals"], ticks="outside", ticklen=5, tickwidth=1.2,
              tickcolor="black", showgrid=True, gridcolor="#c8c8c8", gridwidth=1.5, zeroline=False,
              showline=True, linecolor="black", linewidth=1.3, mirror=True,
              tickfont=dict(family=FONT, size=15),
              minor=dict(tickmode="linear", tick0=ya["m0"], dtick=ya["minor"], ticks="outside", ticklen=3,
                         tickcolor="black", showgrid=True, gridcolor="#c8c8c8", gridwidth=1.5))
    if "ticktext" in ya:
        yd["ticktext"] = ya["ticktext"]
    layout["yaxis%d" % i] = yd
    lg = dict(x=xp(79), y=yp(PANEL_TOP[i - 1] + 6), xanchor="left", yanchor="top",
              bgcolor="rgba(255,255,255,0.8)", bordercolor="#d0d0d0", borderwidth=1,
              font=dict(family=FONT, size=15.5), itemwidth=30)
    layout["legend" if i == 1 else "legend%d" % i] = lg

shapes = []
for i, yv in [(2, 0), (3, 0), (7, 1), (8, 0)]:
    shapes.append(dict(type="line", xref="x%d domain" % i, x0=0, x1=1, yref="y%d" % i, y0=yv, y1=yv,
                       line=dict(color="black", width=2, dash="6px,4px")))
shapes.append(dict(type="line", xref="x", x0=5.45, x1=5.45, yref="paper", y0=yp(996), y1=yp(13),
                   line=dict(color="#7030a0", width=3, dash="9px,5px")))
shapes.append(dict(type="rect", xref="x", x0=4.0, x1=8.06, yref="paper", y0=yp(996.5), y1=yp(15.5),
                   line=dict(color="#ff0000", width=6), fillcolor="rgba(0,0,0,0)"))
layout["shapes"] = shapes

ann = []


def A(text, x, y, size=15, color="black", family=FONT, xanchor="center", yanchor="middle", angle=0):
    ann.append(dict(text=text, xref="paper", yref="paper", x=xp(x), y=yp(y), showarrow=False,
                    xanchor=xanchor, yanchor=yanchor, textangle=angle,
                    font=dict(family=family, size=size, color=color)))


YT = [("(hPa)", 16), ("(m/s)", 20), ("(mm/h)", 20), ("(mm)", 38), ("(1/m^3)", 36), ("(1/m^3)", 36),
      ("Ratio", 36), ("(deg/km)", 36)]
for i, (t, xx) in enumerate(YT):
    A(t, xx, (PANEL_TOP[i] + PANEL_BOT[i]) / 2, size=15, angle=-90)
A("1e4", 70, 521, xanchor="left")
A("1e3", 70, 651, xanchor="left")
A("Time (UTC)", 814, 1050)
A("2022-12-31", 814, -3, size=18, yanchor="top")
A("T(°C)", 1617, 57, size=15, angle=-90)
A("cmplxty", 1597, 576, size=15, angle=-90)
A("cmplxty", 1597, 705, size=15, angle=-90)
A("Ze (dBz)", 1620, 964, size=15, angle=-90)

RF = "Lato"
RS = 26
for txt, x, y in [("At Warm Front", 1631, 67), ("Low  variability in MDV", 1583, 181),
                  ("High Precip Rate, peak", 1591, 329), ("laggs the KDP peak", 1591, 362),
                  ("Small LWP", 1591, 453), ("Small number of small", 1618, 565), ("particles", 1618, 598),
                  ("Many large particles with", 1618, 681), ("moderate  complexity", 1618, 713),
                  ("Large Part. Ratio, small part.", 1573, 828), ("Slightly dominate", 1573, 860),
                  ("One main KDP Peak", 1643, 950)]:
    A(txt.replace("  ", "&nbsp; "), x, y, size=RS, family=RF, xanchor="left")
A("14", 1704, 1037, size=26, color="#e03c3c", family=RF)
layout["annotations"] = ann

fig.update_layout(**layout)
fig.write_html("out.html")
